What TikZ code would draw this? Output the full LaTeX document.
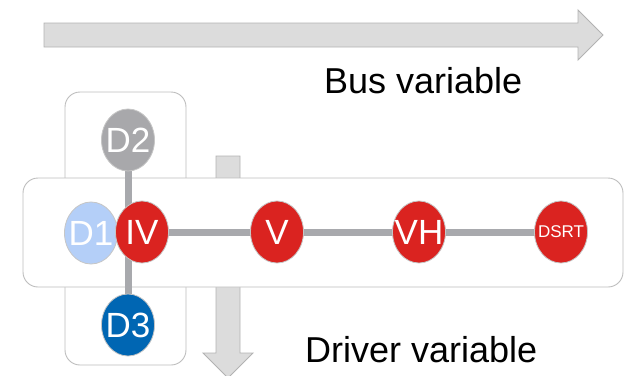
\documentclass[tikz,border=0pt]{standalone}
\usepackage{fontspec}
\setmainfont{Liberation Sans}
\usetikzlibrary{shapes.geometric}
\definecolor{nodered}{HTML}{DA2320}
\definecolor{nodegray}{HTML}{A8A8AB}
\definecolor{lightblue}{HTML}{B4CFF8}
\definecolor{darkblue}{HTML}{0066B3}
\definecolor{edgegray}{HTML}{A8A9AD}
\definecolor{arrowfill}{HTML}{DCDCDC}
\definecolor{arrowline}{HTML}{B2B2B2}
\definecolor{boxline}{HTML}{BDBDBD}
\tikzset{
  bigarrow/.style={fill=arrowfill, draw=arrowline, line width=0.9pt},
  groupbox/.style={fill=white, draw=boxline, line width=0.9pt, rounded corners=15pt},
  var/.style={ellipse, minimum width=53pt, minimum height=62pt, inner xsep=-6pt, inner ysep=0pt,
    draw=gray!45, line width=0.8pt, text=white, font=\fontsize{35}{35}\selectfont},
  small/.style={font=\fontsize{17}{17}\selectfont},
  link/.style={draw=edgegray, line width=7pt},
  label/.style={font=\fontsize{36}{36}\selectfont, anchor=base west, inner sep=0pt}
}
\begin{document}
\begin{tikzpicture}[x=1pt,y=-1pt]
\useasboundingbox (0,0) rectangle (624,375);
% bus arrow
\draw[bigarrow] (44,23) -- (578,23) -- (578,10) -- (603,35) -- (578,60) -- (578,47) -- (44,47) -- cycle;
% driver arrow
\draw[bigarrow] (216,156) -- (240,156) -- (240,353) -- (253,353) -- (228,378) -- (203,353) -- (216,353) -- cycle;
% boxes
\draw[groupbox] (65,92) rectangle (186,365);
\draw[groupbox] (23,178) rectangle (623,287);
% node positions
\coordinate (pD2) at (128,140);
\coordinate (pD3) at (128,325);
\coordinate (pIV) at (142,232);
\coordinate (pV) at (277,232);
\coordinate (pVH) at (419,232);
\coordinate (pDSRT) at (561,232);
% links
\path[link] (pD2) -- (pD3);
\path[link] (pIV) -- (pV);
\path[link] (pV) -- (pVH);
\path[link] (pVH) -- (pDSRT);
% nodes
\node[var, fill=nodegray] (D2) at (pD2) {D2};
\node[var, fill=darkblue] (D3) at (pD3) {D3};
\node[var, fill=lightblue] (D1) at (91,233) {D1};
\node[var, fill=nodered] (IV) at (pIV) {IV};
\node[var, fill=nodered] (V) at (pV) {V};
\node[var, fill=nodered] (VH) at (pVH) {VH};
\node[var, fill=nodered, small] (DSRT) at (pDSRT) {DSRT};
% labels
\node[label] (bus) at (324,93) {Bus variable};
\node[label] (driver) at (305,362) {Driver variable};
\end{tikzpicture}
\end{document}
